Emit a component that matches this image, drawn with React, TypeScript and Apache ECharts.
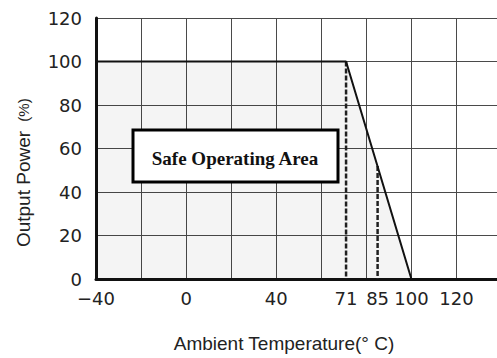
import React, { useEffect, useRef } from "react";
import * as echarts from "echarts";

const curveX = [-40, 71, 100];
const curveY = [100, 100, 0];
const dash71 = [[71, 100], [71, 0]];
const dash85 = [[85, 52], [85, 0]];
const xTickLabels = [-40, 0, 40, 71, 85, 100, 120];
const yTicks = [0, 20, 40, 60, 80, 100, 120];
const xTitle = "Ambient Temperature(° C)";
const yTitleMain = "Output Power";
const yTitleUnit = "(%)";
const boxLabel = "Safe Operating Area";

export default function App() {
  const ref = useRef<HTMLDivElement>(null);
  useEffect(() => {
    if (!ref.current) return;
    const chart = echarts.init(ref.current, undefined, { renderer: "svg" });
    const font = "'Liberation Sans', Arial, sans-serif";
    const tickFont = "'DejaVu Sans', sans-serif";
    chart.setOption({
      animation: false,
      backgroundColor: "#fff",
      grid: { left: 96, top: 18, right: 0, bottom: 79 },
      xAxis: [
        {
          type: "value",
          min: -40,
          max: 138,
          interval: 20,
          axisLine: { show: true, onZero: false, lineStyle: { color: "#111", width: 3 } },
          axisTick: { show: false },
          axisLabel: { show: false },
          splitLine: { show: true, lineStyle: { color: "#4a4a4a", width: 1 } },
        },
        {
          type: "value",
          min: -40,
          max: 138,
          position: "bottom",
          axisLine: { show: false },
          axisTick: { show: false },
          splitLine: { show: false },
          axisLabel: {
            customValues: xTickLabels,
            margin: 10,
            fontSize: 18,
            color: "#222",
            fontFamily: tickFont,
            formatter: (v: number) => (v < 0 ? "\u2212" + Math.abs(v) : String(v)),
          },
        },
      ],
      yAxis: {
        type: "value",
        min: yTicks[0],
        max: yTicks[yTicks.length - 1],
        interval: 20,
        axisLine: { show: true, onZero: false, lineStyle: { color: "#111", width: 3 } },
        axisTick: { show: false },
        axisLabel: { margin: 14, fontSize: 18, color: "#222", fontFamily: tickFont },
        splitLine: { show: true, lineStyle: { color: "#4a4a4a", width: 1 } },
      },
      series: [
        {
          type: "line",
          xAxisIndex: 0,
          data: curveX.map((x, i) => [x, curveY[i]]),
          symbol: "none",
          lineStyle: { color: "#111", width: 2 },
          areaStyle: { color: "rgba(0,0,0,0.06)" },
          z: 3,
        },
        {
          type: "line",
          xAxisIndex: 0,
          data: dash71,
          symbol: "none",
          lineStyle: { color: "#222", width: 2.5, type: [5, 2] },
          z: 2,
        },
        {
          type: "line",
          xAxisIndex: 0,
          data: dash85,
          symbol: "none",
          lineStyle: { color: "#222", width: 2.5, type: [5, 2] },
          z: 2,
        },
      ],
      graphic: [
        {
          type: "rect",
          shape: { x: 133, y: 130, width: 205, height: 52 },
          style: { fill: "#fff", stroke: "#000", lineWidth: 3 },
          z: 10,
        },
        {
          type: "text",
          x: 235,
          y: 158,
          style: {
            text: boxLabel,
            font: "bold 19px 'Liberation Serif', 'Times New Roman', serif",
            fill: "#111",
            textAlign: "center",
            textVerticalAlign: "middle",
          },
          z: 11,
        },
        {
          type: "text",
          x: 284,
          y: 343,
          style: {
            text: xTitle,
            font: "19px " + font,
            fill: "#222",
            textAlign: "center",
            textVerticalAlign: "middle",
          },
        },
        {
          type: "text",
          x: 23,
          y: 189,
          rotation: Math.PI / 2,
          style: {
            text: yTitleMain,
            font: "19px " + font,
            fill: "#222",
            textAlign: "center",
            textVerticalAlign: "middle",
          },
        },
        {
          type: "text",
          x: 23,
          y: 110,
          rotation: Math.PI / 2,
          style: {
            text: yTitleUnit,
            font: "15px " + font,
            fill: "#222",
            textAlign: "center",
            textVerticalAlign: "middle",
          },
        },
      ],
    });
    return () => chart.dispose();
  }, []);
  return (
    <div
      ref={ref}
      style={{ position: "absolute", left: 0, top: 0, width: 497, height: 358 }}
    />
  );
}
